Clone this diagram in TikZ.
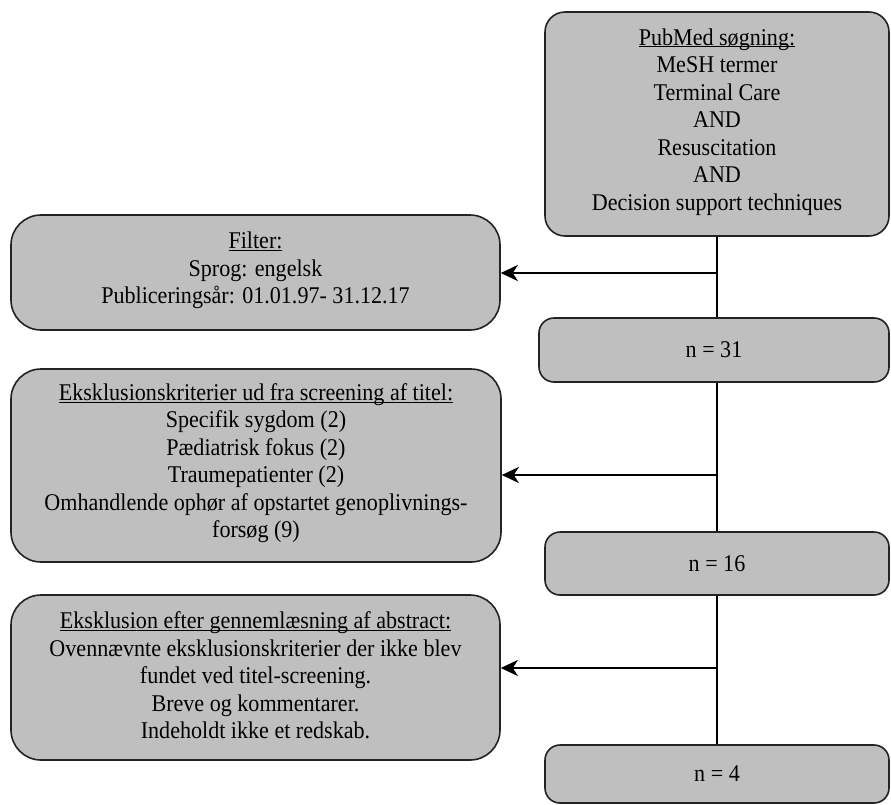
\documentclass[tikz,border=0pt]{standalone}
\usepackage{fontspec}
\setmainfont{Liberation Serif}[FakeStretch=0.92]
\usetikzlibrary{arrows.meta}
\definecolor{boxgray}{RGB}{191,191,191}
\definecolor{edgegray}{RGB}{35,35,35}
\newcommand\ulhead[1]{\underline{\smash{#1}}\vphantom{gp}}
\begin{document}
\begin{tikzpicture}[x=1pt,y=-1pt,
  box/.style={draw=edgegray, line width=1.6pt, fill=boxgray, rounded corners=#1,
    inner sep=0pt, align=center, font=\fontsize{24}{27.5}\selectfont},
  conn/.style={line width=2.2pt, black},
  arr/.style={line width=2.7pt, black, -{Stealth[length=17pt,width=16pt,inset=5pt]}}]
\useasboundingbox (0,0) rectangle (891,804);
\node[box=20pt, minimum width=344pt, minimum height=224pt] (pub) at (717,124)
  {\ulhead{PubMed søgning:}\\MeSH termer\\Terminal Care\\AND\\Resuscitation\\AND\\Decision support techniques};
\node[box=30pt, minimum width=489pt, minimum height=115pt] (filter) at (255.5,272.5)
  {\ulhead{Filter:}\\Sprog: engelsk\\Publiceringsår: 01.01.97- 31.12.17};
\node[box=15pt, minimum width=350pt, minimum height=64pt] (n31) at (714,350) {n = 31};
\node[box=30pt, minimum width=490pt, minimum height=193pt] (eks) at (256,465.5)
  {\ulhead{Eksklusionskriterier ud fra screening af titel:}\\Specifik sygdom (2)\\Pædiatrisk fokus (2)\\Traumepatienter (2)\\Omhandlende ophør af opstartet genoplivnings-\\forsøg (9)};
\node[box=15pt, minimum width=344pt, minimum height=63pt] (n16) at (717,563.5) {n = 16};
\node[box=30pt, minimum width=489pt, minimum height=165pt] (abs) at (255.5,677.5)
  {\ulhead{Eksklusion efter gennemlæsning af abstract:}\\Ovennævnte eksklusionskriterier der ikke blev\\fundet ved titel-screening.\\Breve og kommentarer.\\Indeholdt ikke et redskab.};
\node[box=15pt, minimum width=344pt, minimum height=58pt] (n4) at (717,774) {n = 4};
\draw[conn] (pub.south) -- (pub.south |- n31.north);
\draw[conn] (n31.south -| pub.south) -- (n16.north);
\draw[conn] (n16.south) -- (n4.north);
\coordinate (j1) at (717,273);
\coordinate (j2) at (717,475);
\coordinate (j3) at (717,668);
\draw[arr] (j1) -- (j1 -| filter.east);
\draw[arr] (j2) -- (j2 -| eks.east);
\draw[arr] (j3) -- (j3 -| abs.east);
\end{tikzpicture}
\end{document}
